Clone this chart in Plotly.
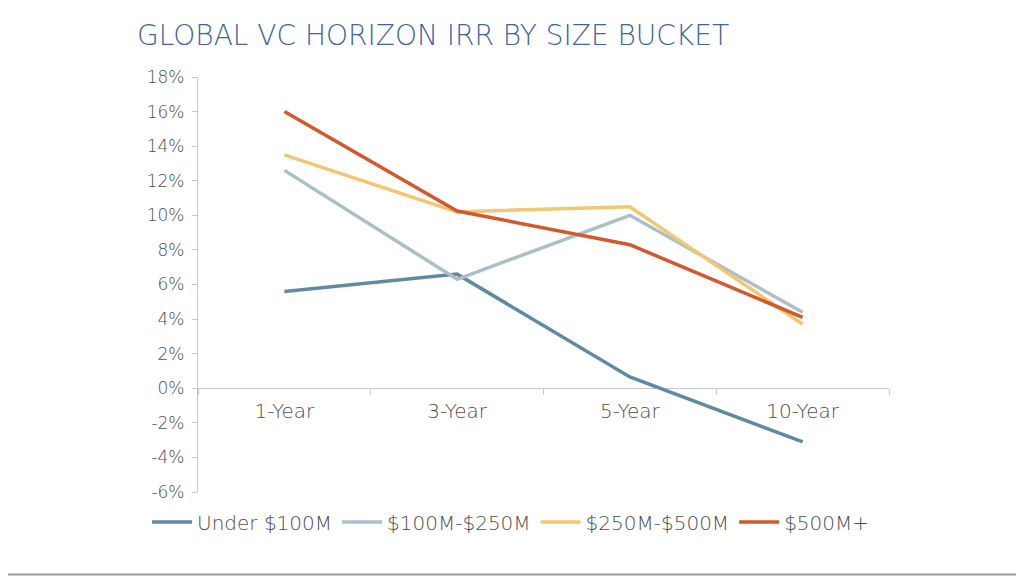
"""Global VC horizon IRR by size bucket, line chart."""

import plotly.graph_objects as go

horizons = ["1-Year", "3-Year", "5-Year", "10-Year"]

under_100m = [5.6, 6.6, 0.65, -3.1]
from_100m_250m = [12.6, 6.3, 10.0, 4.4]
from_250m_500m = [13.5, 10.2, 10.5, 3.7]
over_500m = [16.0, 10.25, 8.3, 4.1]

series_names = ["Under $100M", "$100M-$250M", "$250M-$500M", "$500M+"]
series_values = [under_100m, from_100m_250m, from_250m_500m, over_500m]
series_colors = ["#5f8ba1", "#aac0c6", "#f3c673", "#d3582b"]

y_ticks = list(range(-6, 19, 2))

fig = go.Figure()
for name, vals, color in zip(series_names, series_values, series_colors):
    fig.add_trace(go.Scatter(
        x=horizons,
        y=vals,
        mode="lines",
        name=name,
        line=dict(color=color, width=3.5),
    ))

# the page body has an 8px margin, so the figure is laid out 8px in
W, H = 1016, 568
L, T = 190, 69
pw, ph = 691, 415
R, B = W - L - pw, H - T - ph

# frame edges, in figure pixels
frame_right = 1014.5
frame_bottom = 566.5

fig.update_layout(
    width=W,
    height=H,
    margin=dict(l=L, r=R, t=T, b=B, autoexpand=False),
    paper_bgcolor="white",
    plot_bgcolor="white",
    font=dict(family="DejaVu Sans, sans-serif", color="#4d4d4d", size=17, weight=300),
    title=dict(
        text="GLOBAL VC HORIZON IRR BY SIZE BUCKET",
        x=129 / W,
        xanchor="left",
        y=1 - 27 / H,
        yanchor="middle",
        font=dict(size=28, color="#4264a0", weight=300),
    ),
    showlegend=True,
    # left of the plot area so that plotly lets the row run past the plot width
    legend=dict(
        orientation="h",
        x=(139 - L) / pw,
        xanchor="left",
        y=-(514 - T - ph) / ph,
        yanchor="middle",
        font=dict(size=20, color="#4d4d4d", weight=300),
        itemwidth=40,
        tracegroupgap=0,
        bgcolor="rgba(0,0,0,0)",
    ),
    xaxis=dict(
        type="category",
        range=[-0.5, 3.5],
        showgrid=False,
        zeroline=False,
        showline=False,
        ticks="outside",
        tickson="boundaries",
        ticklen=6,
        tickcolor="#c8c8c8",
        anchor="free",
        position=6 / 24,
        ticklabelstandoff=9,
        tickfont=dict(size=20),
    ),
    yaxis=dict(
        range=[-6, 18],
        tickvals=y_ticks,
        ticktext=[f"{v}%" for v in y_ticks],
        showgrid=False,
        zeroline=True,
        zerolinecolor="#c8c8c8",
        zerolinewidth=1.2,
        showline=True,
        linecolor="#c8c8c8",
        linewidth=1.2,
        ticks="outside",
        ticklen=5,
        tickcolor="#c8c8c8",
        ticklabelstandoff=4,
        tickfont=dict(size=17),
    ),
    shapes=[
        dict(
            type="line",
            xref="paper",
            yref="paper",
            x0=(frame_right - L) / pw,
            x1=(frame_right - L) / pw,
            y0=(T + ph - frame_bottom) / ph,
            y1=(T + ph) / ph,
            line=dict(color="#999999", width=2),
        ),
        dict(
            type="line",
            xref="paper",
            yref="paper",
            x0=-L / pw,
            x1=(frame_right - L) / pw,
            y0=(T + ph - frame_bottom) / ph,
            y1=(T + ph - frame_bottom) / ph,
            line=dict(color="#999999", width=2),
        ),
    ],
)

fig.write_html("out.html")
